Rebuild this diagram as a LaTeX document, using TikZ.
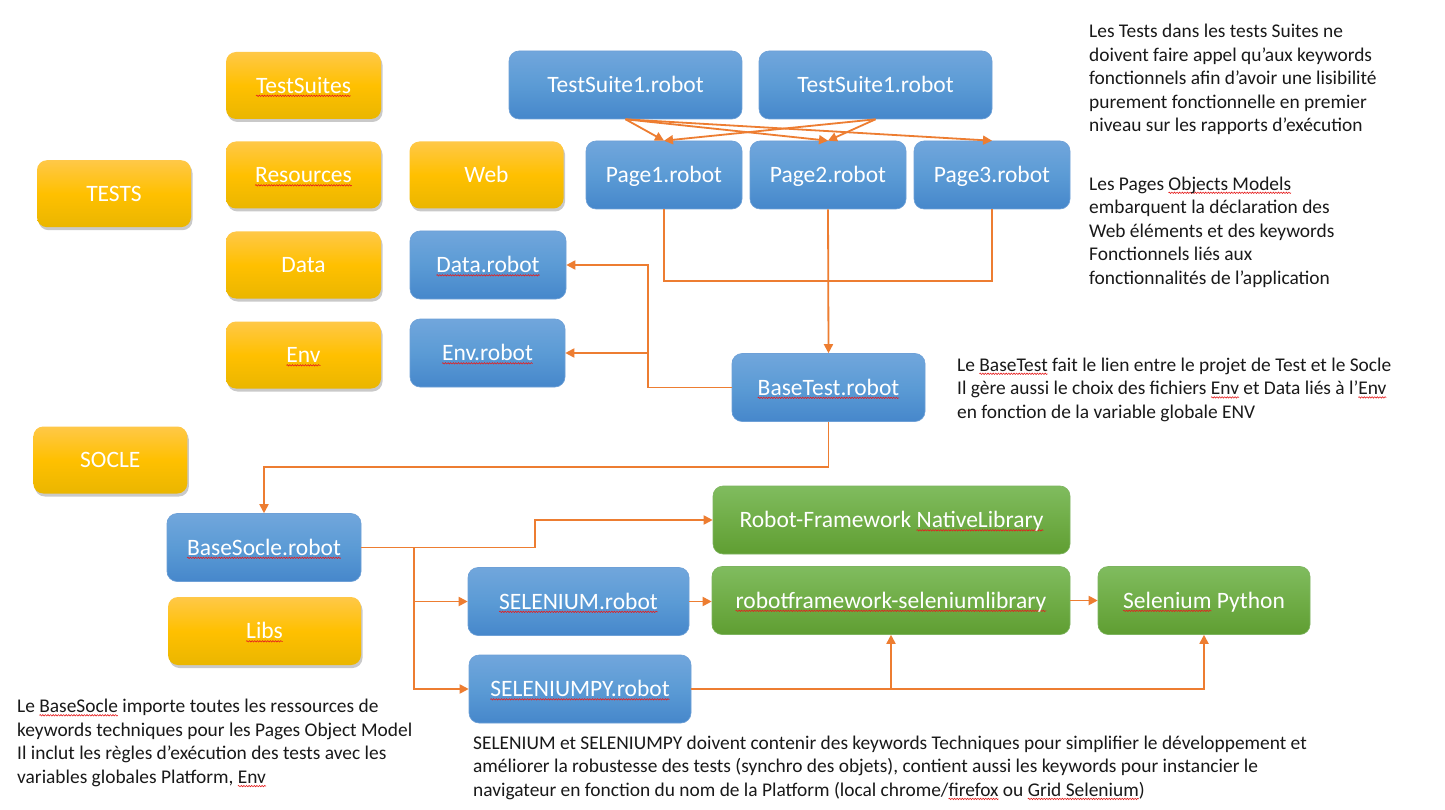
\documentclass[tikz,border=0pt]{standalone}
\usepackage{fontspec}
\setmainfont{Carlito}
\usetikzlibrary{arrows.meta,shadows,decorations.pathmorphing}
\definecolor{ytop}{RGB}{255,200,72}
\definecolor{ymid}{RGB}{255,192,0}
\definecolor{ybot}{RGB}{234,182,0}
\definecolor{btop}{RGB}{113,166,220}
\definecolor{bmid}{RGB}{91,155,213}
\definecolor{bbot}{RGB}{70,135,203}
\definecolor{bline}{RGB}{110,160,215}
\definecolor{gtop}{RGB}{128,188,95}
\definecolor{gmid}{RGB}{112,173,71}
\definecolor{gbot}{RGB}{95,158,50}
\definecolor{gline}{RGB}{125,180,95}
\definecolor{arrc}{RGB}{237,125,49}
\definecolor{sqred}{RGB}{230,30,30}
\newsavebox\sqbox
\newcommand\squig[1]{\sbox\sqbox{#1}\leavevmode\rlap{\tikz[baseline=0pt,overlay]\draw[sqred,line width=0.6pt,decorate,decoration={snake,amplitude=0.7pt,segment length=2.6pt}] (0pt,-2.8pt) -- (\the\wd\sqbox,-2.8pt);}\usebox\sqbox}
\tikzset{
  boxbase/.style={rounded corners=10pt, inner sep=0pt},
  ybox/.style={boxbase, top color=ytop, bottom color=ybot, middle color=ymid,
    drop shadow={shadow xshift=1.5pt, shadow yshift=-3pt, opacity=0.35, fill=black!60}},
  bbox/.style={boxbase, top color=btop, bottom color=bbot, middle color=bmid, draw=bline, line width=0.6pt},
  gbox/.style={boxbase, top color=gtop, bottom color=gbot, middle color=gmid, draw=gline, line width=0.6pt},
  btext/.style={text=white, inner sep=0pt, anchor=center,
    font=\fontsize{23.5pt}{28pt}\selectfont, text height=15.1pt, text depth=0pt},
  arr/.style={draw=arrc, line width=1.8pt, -{Triangle[length=9pt,width=9pt]}},
  ln/.style={draw=arrc, line width=1.8pt},
  note/.style={anchor=base west, align=left, inner sep=0pt, text=black!90,
    font=\fontsize{19.4pt}{23.6pt}\selectfont},
}
\begin{document}
\begin{tikzpicture}[x=1pt,y=-1pt]
\useasboundingbox[fill=white] (0,0) rectangle (1445,810);

% yellow folders
\node[ybox, minimum width=155pt, minimum height=67pt] (ysuites) at (303.5,85.5) {};
\node[ybox, minimum width=155pt, minimum height=67pt] (yres) at (303.5,175) {};
\node[ybox, minimum width=155pt, minimum height=67pt] (ydata) at (303.5,265) {};
\node[ybox, minimum width=155pt, minimum height=67pt] (yenv) at (303.5,355) {};
\node[ybox, minimum width=154pt, minimum height=67pt] (ytests) at (114,193.7) {};
\node[ybox, minimum width=154pt, minimum height=67pt] (ysocle) at (110.3,460) {};
\node[ybox, minimum width=154pt, minimum height=67pt] (yweb) at (486.5,175) {};
\node[ybox, minimum width=193pt, minimum height=68pt] (ylibs) at (264.5,631) {};

% blue robot files
\node[bbox, minimum width=233pt, minimum height=68pt] (ts1) at (625.5,85) {};
\node[bbox, minimum width=233pt, minimum height=68pt] (ts2) at (875.5,85) {};
\node[bbox, minimum width=156pt, minimum height=68pt] (p1) at (664,175) {};
\node[bbox, minimum width=156pt, minimum height=68pt] (p2) at (828,175) {};
\node[bbox, minimum width=156pt, minimum height=68pt] (p3) at (992,175) {};
\node[bbox, minimum width=156pt, minimum height=68pt] (dat) at (488,265) {};
\node[bbox, minimum width=155pt, minimum height=68pt] (envr) at (487.5,353) {};
\node[bbox, minimum width=193pt, minimum height=68pt] (bt) at (828.5,387.5) {};
\node[bbox, minimum width=194pt, minimum height=68pt] (bs) at (264,547.5) {};
\node[bbox, minimum width=221pt, minimum height=68pt] (sel) at (578.5,601.5) {};
\node[bbox, minimum width=222pt, minimum height=68pt] (selpy) at (580,689) {};

% green libraries
\node[gbox, minimum width=357pt, minimum height=68pt] (rfn) at (891.5,520) {};
\node[gbox, minimum width=358pt, minimum height=68pt] (sl) at (891,600.5) {};
\node[gbox, minimum width=212pt, minimum height=68pt] (sp) at (1204,600.5) {};

% box labels
\node[btext] (ysuites-t) at (ysuites) {\squig{TestSuites}};
\node[btext] (yres-t) at (yres) {\squig{Resources}};
\node[btext] (ydata-t) at (ydata) {Data};
\node[btext] (yenv-t) at (yenv) {\squig{Env}};
\node[btext] (ytests-t) at (ytests) {TESTS};
\node[btext] (ysocle-t) at (ysocle) {SOCLE};
\node[btext] (yweb-t) at (yweb) {Web};
\node[btext] (ylibs-t) at (ylibs) {\squig{Libs}};
\node[btext] (ts1-t) at (ts1) {TestSuite1.robot};
\node[btext] (ts2-t) at (ts2) {TestSuite1.robot};
\node[btext] (p1-t) at (p1) {Page1.robot};
\node[btext] (p2-t) at (p2) {Page2.robot};
\node[btext] (p3-t) at (p3) {Page3.robot};
\node[btext] (dat-t) at (dat) {\squig{Data.robot}};
\node[btext] (envr-t) at (envr) {\squig{Env.robot}};
\node[btext] (bt-t) at (bt) {\squig{BaseTest.robot}};
\node[btext] (bs-t) at (bs) {\squig{BaseSocle.robot}};
\node[btext] (sel-t) at (sel) {\squig{SELENIUM.robot}};
\node[btext] (selpy-t) at (selpy) {\squig{SELENIUMPY.robot}};
\node[btext] (rfn-t) at (rfn) {Robot-Framework \squig{NativeLibrary}};
\node[btext] (sl-t) at (sl) {\squig{robotframework-seleniumlibrary}};
\node[btext] (sp-t) at (sp) {\squig{Selenium} Python};

% helper coordinates
\coordinate (jy) at (0,281);
\coordinate (vb) at (648,0);
\coordinate (hb) at (0,467);
\coordinate (k1) at (535,0);
\coordinate (k2) at (414,0);

% connectors
\draw[arr] (ts1.south) -- (p1.north);
\draw[arr] (ts1.south) -- (p2.north);
\draw[arr] (ts1.south) -- (p3.north);
\draw[arr] (ts2.south) -- (p1.north);
\draw[arr] (ts2.south) -- (p2.north);

\draw[ln] (p1.south) -- (p1.south |- jy) -- (p3.south |- jy) -- (p3.south);
\draw[arr] (p2.south) -- (bt.north);

\draw[arr] (bt.west) -- (bt.west -| vb) -- (vb |- dat.east) -- (dat.east);
\draw[arr] (vb |- envr.east) -- (envr.east);

\draw[arr] (bt.south) -- (bt.south |- hb) -- (bs.north |- hb) -- (bs.north);

\draw[arr] (bs.east) -- (bs.east -| k1) -- (k1 |- rfn.west) -- (rfn.west);
\draw[arr] (bs.east -| k2) -- (k2 |- selpy.west) -- (selpy.west);
\draw[arr] (k2 |- sel.west) -- (sel.west);
\draw[arr] (sel.east) -- (sel.east -| sl.west);
\draw[arr] (sl.east) -- (sp.west);
\draw[arr] (selpy.east) -- (selpy.east -| sp.south) -- (sp.south);
\draw[arr] (selpy.east -| sl.south) -- (sl.south);

% notes (anchored at the baseline of their last line)
\node[note] (n1) at (1089,131.9) {Les Tests dans les tests Suites ne\\doivent faire appel qu’aux keywords\\fonctionnels afin d’avoir une lisibilité\\purement fonctionnelle en premier\\niveau sur les rapports d’exécution};
\node[note] (n2) at (1089,284.4) {Les Pages \squig{Objects Models}\\embarquent la déclaration des\\Web éléments et des keywords\\Fonctionnels liés aux\\fonctionnalités de l’application};
\node[note] (n3) at (957,418.2) {Le \squig{BaseTest} fait le lien entre le projet de Test et le Socle\\Il gère aussi le choix des fichiers \squig{Env} et Data liés à l’\squig{Env}\\en fonction de la variable globale ENV};
\node[note] (n4) at (17,783.3) {Le \squig{BaseSocle} importe toutes les ressources de\\keywords techniques pour les Pages Object Model\\Il inclut les règles d’exécution des tests avec les\\variables globales Platform, \squig{Env}};
\node[note, font=\fontsize{19.4pt}{23.3pt}\selectfont] (n5) at (473,796.1) {SELENIUM et SELENIUMPY doivent contenir des keywords Techniques pour simplifier le développement et\\améliorer la robustesse des tests (synchro des objets), contient aussi les keywords pour instancier le\\navigateur en fonction du nom de la Platform (local chrome/\squig{firefox} ou \squig{Grid Selenium})};
\end{tikzpicture}
\end{document}
